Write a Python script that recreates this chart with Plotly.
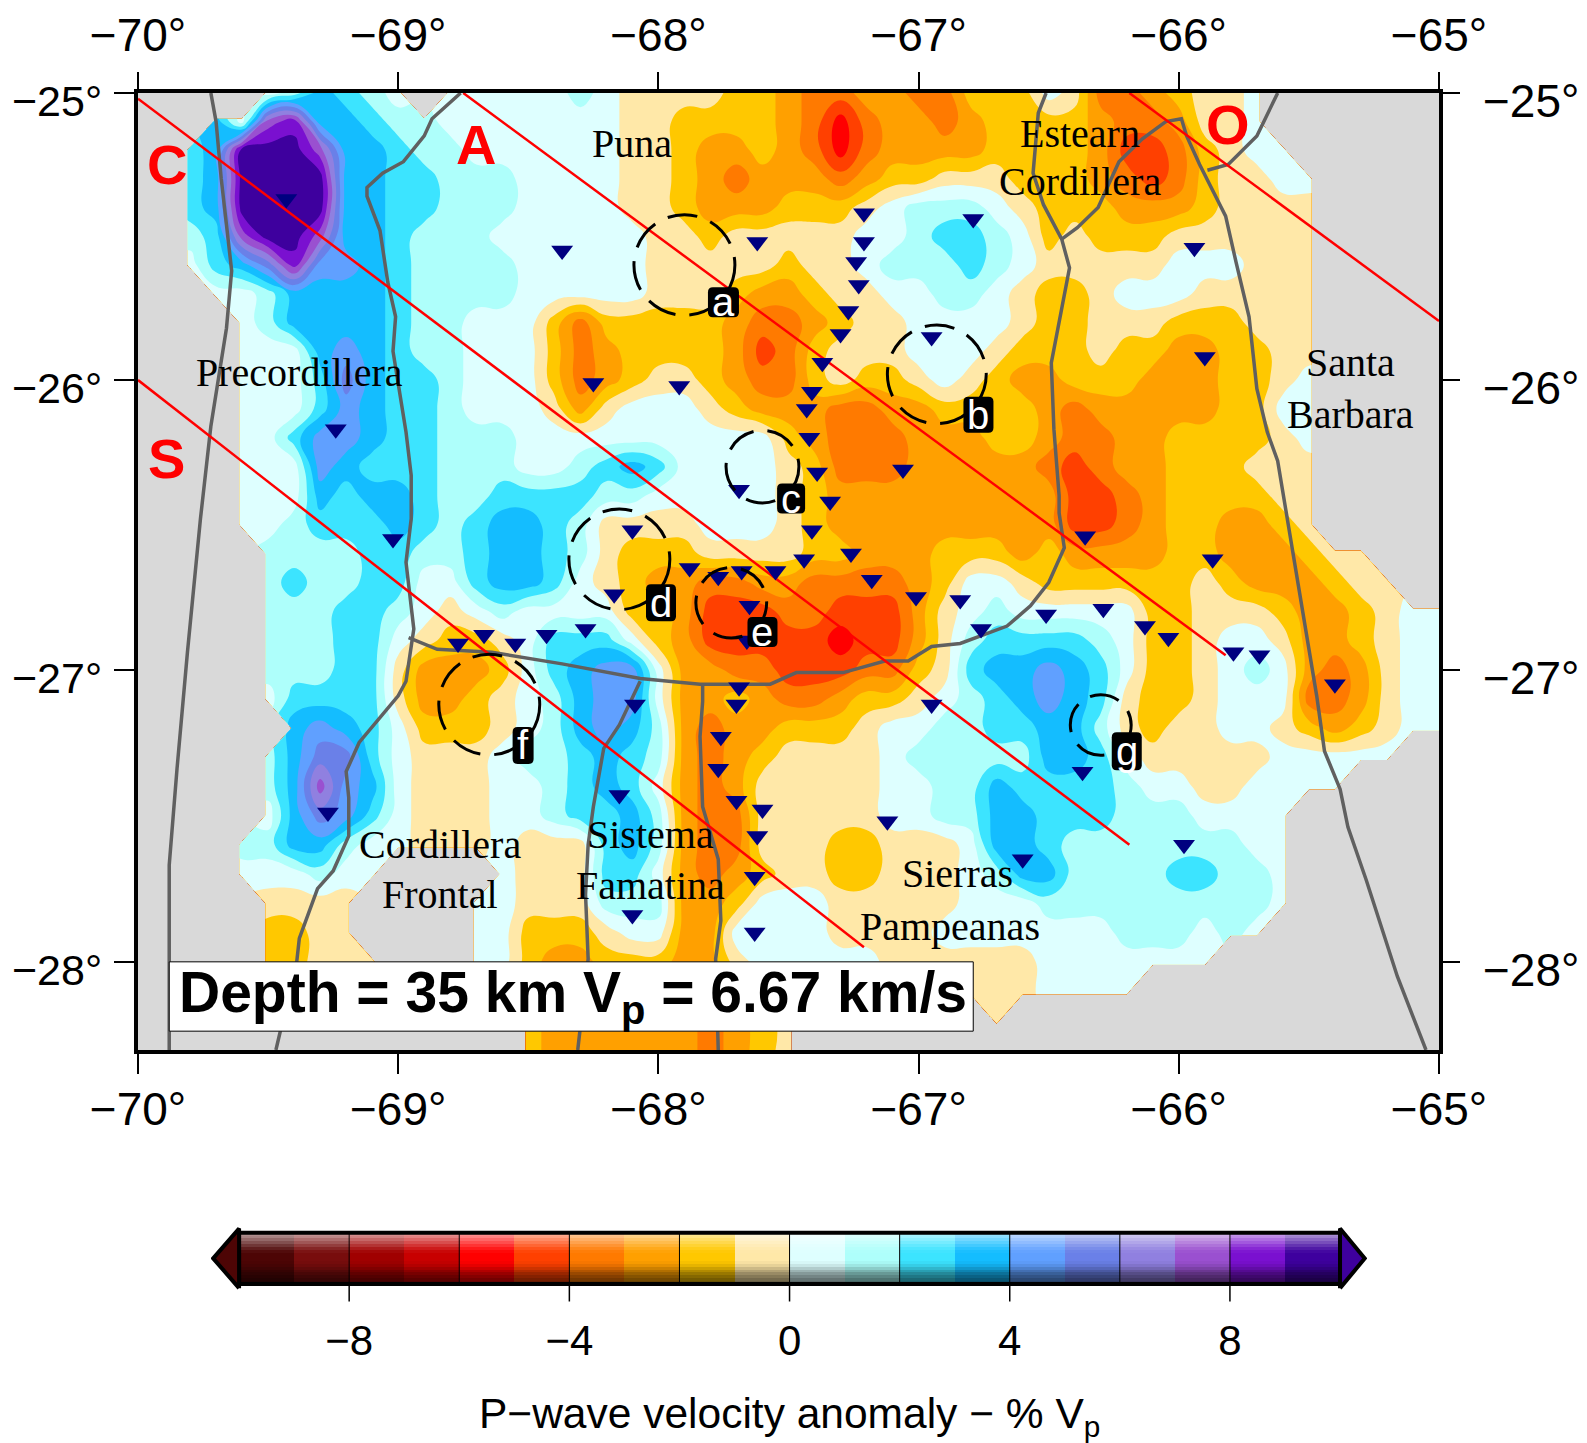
import math
import plotly.graph_objects as go

N = None
W, H = 1587, 1443
OFF = 8  # the page body keeps its default 8 px margin
FW, FH = W - OFF, H - OFF

def merc(lat):
    return math.degrees(math.log(math.tan(math.pi / 4 + math.radians(lat) / 2)))

lon_cols = [round(-70 + 0.1 * i, 1) for i in range(51)]
lat_rows = [round(-25 - 0.1 * i, 1) for i in range(34)]

# P-wave velocity anomaly (% Vp): one row per latitude
anomaly = [
 [N,N,N,N,N,.5,1.5,3.5,2.5,1.5, .5,N,.5,.5,.5,.5,.5,1.5,.5,-.5, -.5,-.5,-.5,-1.5,-1.5,-2.5,-3.5,-3.5,-2.5,-2.5, -3.5,-3.5,-1.5,-1.5,-1.5,.5,-.5,-3.5,-3.5,-2.5, -1.5,-.5,-.5,.5,N,N,N,N,N,N,N],
 [N,N,N,3.5,.5,7.5,8.5,3.5,3.5,2.5, 1.5,1.5,.5,.5,.5,.5,.5,.5,.5,-.5, -.5,-1.5,-1.5,-1.5,-1.5,-2.5,-3.5,-5.5,-3.5,-2.5, -2.5,-3.5,-2.5,-1.5,-1.5,-1.5,-1.5,-2.5,-3.5,-3.5, -2.5,-.5,-.5,.5,N,N,N,N,N,N,N],
 [N,N,2.5,3.5,9.5,9.5,9.5,7.5,3.5,3.5, 2.5,1.5,1.5,.5,.5,.5,.5,.5,.5,-.5, -.5,-1.5,-2.5,-2.5,-1.5,-2.5,-3.5,-5.5,-3.5,-2.5, -2.5,-2.5,-2.5,-1.5,-1.5,-1.5,-1.5,-2.5,-4.5,-4.5, -3.5,-1.5,-.5,.5,.5,N,N,N,N,N,N],
 [N,N,2.5,3.5,9.5,9.5,9.5,9.5,3.5,3.5, 2.5,2.5,1.5,1.5,1.5,.5,.5,.5,.5,-.5, -.5,-1.5,-2.5,-3.5,-2.5,-2.5,-2.5,-3.5,-2.5,-1.5, -1.5,-.5,-.5,-.5,-1.5,-1.5,-1.5,-2.5,-3.5,-4.5, -3.5,-1.5,-.5,-.5,.5,.5,N,N,N,N,N],
 [N,N,2.5,3.5,9.5,9.5,9.5,9.5,3.5,3.5, 2.5,2.5,1.5,1.5,1.5,.5,.5,.5,.5,-.5, -.5,-1.5,-2.5,-2.5,-2.5,-1.5,-1.5,-1.5,-.5,.5, 1.5,1.5,1.5,.5,-.5,-1.5,-1.5,-1.5,-2.5,-2.5, -2.5,-1.5,-.5,-.5,-.5,-.5,N,N,N,N,N],
 [N,N,1.5,2.5,7.5,9.5,9.5,7.5,3.5,3.5, 2.5,1.5,1.5,1.5,.5,.5,.5,.5,.5,.5, -.5,-.5,-1.5,-.5,-.5,-.5,-.5,-.5,.5,.5, 1.5,2.5,2.5,1.5,.5,-1.5,-.5,-1.5,-1.5,-1.5, -.5,-.5,-.5,-.5,-.5,-.5,N,N,N,N,N],
 [N,N,.5,2.5,3.5,5.5,8.5,4.5,4.5,3.5, 2.5,1.5,1.5,1.5,1.5,.5,.5,.5,.5,.5, -.5,-.5,-.5,-.5,-.5,-1.5,-.5,-.5,.5,1.5, 1.5,1.5,2.5,1.5,.5,-.5,-.5,-.5,-.5,-.5, .5,.5,.5,-.5,-.5,-.5,N,N,N,N,N],
 [N,N,N,.5,.5,1.5,3.5,3.5,3.5,3.5, 2.5,1.5,1.5,1.5,1.5,.5,.5,.5,.5,.5, -.5,-.5,-.5,-1.5,-2.5,-2.5,-1.5,-.5,-.5,.5, .5,1.5,1.5,.5,-.5,-1.5,-1.5,-.5,.5,.5, .5,-.5,-.5,-.5,-.5,-.5,N,N,N,N,N],
 [N,N,N,N,.5,1.5,3.5,3.5,3.5,3.5, 2.5,1.5,1.5,.5,.5,.5,-1.5,-3.5,-1.5,-1.5, -1.5,-1.5,-1.5,-2.5,-3.5,-3.5,-2.5,-1.5,-.5,-.5, .5,.5,.5,.5,-.5,-1.5,-1.5,-.5,-.5,-.5, -1.5,-1.5,-1.5,-.5,-.5,-.5,N,N,N,N,N],
 [N,N,N,N,.5,.5,.5,3.5,4.5,3.5, 2.5,1.5,1.5,.5,.5,.5,-1.5,-3.5,-2.5,-1.5, -1.5,-1.5,-1.5,-2.5,-4.5,-3.5,-1.5,-.5,-.5,-.5, .5,.5,.5,-.5,-1.5,-1.5,-1.5,-.5,-1.5,-1.5, -2.5,-2.5,-1.5,-1.5,-.5,-.5,N,N,N,N,N],
 [N,N,N,N,.5,.5,.5,2.5,5.5,3.5, 2.5,2.5,1.5,.5,.5,.5,-1.5,-3.5,-2.5,-1.5, -.5,-.5,-1.5,-2.5,-3.5,-3.5,-1.5,-.5,-1.5,-1.5, -.5,.5,-.5,-1.5,-2.5,-2.5,-1.5,-1.5,-1.5,-2.5, -2.5,-2.5,-1.5,-1.5,-.5,.5,N,N,N,N,N],
 [N,N,N,N,.5,.5,.5,2.5,4.5,3.5, 2.5,2.5,1.5,.5,.5,.5,-.5,-2.5,-.5,.5, .5,.5,-.5,-1.5,-2.5,-2.5,-2.5,-3.5,-3.5,-2.5, -2.5,-1.5,-1.5,-1.5,-1.5,-2.5,-3.5,-2.5,-2.5,-2.5, -2.5,-2.5,-1.5,-1.5,.5,.5,N,N,N,N,N],
 [N,N,N,N,.5,.5,2.5,4.5,4.5,3.5, 2.5,2.5,1.5,1.5,1.5,.5,.5,.5,.5,.5, .5,.5,.5,.5,.5,-1.5,-2.5,-3.5,-3.5,-3.5, -2.5,-2.5,-2.5,-1.5,-1.5,-2.5,-3.5,-3.5,-2.5,-2.5, -1.5,-1.5,-1.5,-1.5,-.5,.5,N,N,N,N,N],
 [N,N,N,N,.5,.5,.5,4.5,3.5,2.5, 2.5,2.5,1.5,1.5,1.5,.5,.5,1.5,2.5,3.5, 2.5,.5,.5,.5,.5,-.5,-1.5,-3.5,-3.5,-3.5, -2.5,-2.5,-2.5,-2.5,-2.5,-3.5,-4.5,-3.5,-2.5,-2.5, -1.5,-1.5,-1.5,-.5,-.5,-.5,N,N,N,N,N],
 [N,N,N,N,.5,.5,.5,3.5,2.5,3.5, 3.5,2.5,1.5,1.5,2.5,2.5,2.5,2.5,1.5,1.5, .5,.5,.5,.5,.5,-.5,-1.5,-2.5,-2.5,-2.5, -2.5,-2.5,-2.5,-2.5,-2.5,-2.5,-4.5,-4.5,-3.5,-2.5, -1.5,-1.5,-1.5,-1.5,-.5,-.5,N,N,N,N,N],
 [N,N,N,N,.5,.5,1.5,2.5,2.5,2.5, 3.5,2.5,1.5,2.5,3.5,3.5,2.5,1.5,-.5,-.5, -.5,-.5,.5,.5,.5,-.5,-1.5,-2.5,-2.5,-2.5, -2.5,-2.5,-2.5,-2.5,-2.5,-2.5,-4.5,-4.5,-3.5,-2.5, -1.5,-1.5,-2.5,-2.5,-1.5,-.5,N,N,N,N,N],
 [N,N,N,N,N,1.5,1.5,1.5,1.5,2.5, 2.5,1.5,1.5,2.5,3.5,3.5,2.5,1.5,-.5,-1.5, -1.5,-1.5,-.5,-.5,-.5,-.5,-1.5,-1.5,-2.5,-2.5, -2.5,-1.5,-1.5,-1.5,-2.5,-1.5,-2.5,-2.5,-2.5,-2.5, -1.5,-1.5,-2.5,-2.5,-2.5,-1.5,-.5,-.5,N,N,N],
 [N,N,N,N,N,1.5,2.5,1.5,1.5,2.5, 2.5,.5,.5,2.5,3.5,3.5,2.5,.5,-.5,-1.5, -2.5,-2.5,-3.5,-3.5,-2.5,-2.5,-3.5,-3.5,-3.5,-3.5, -2.5,-1.5,.5,.5,-.5,-1.5,-1.5,-1.5,-1.5,-1.5, -1.5,-.5,-1.5,-2.5,-2.5,-2.5,-1.5,-.5,-.5,N,N],
 [N,N,N,N,N,1.5,1.5,1.5,2.5,2.5, 1.5,.5,-.5,.5,1.5,.5,.5,.5,.5,-1.5, -1.5,-2.5,-4.5,-4.5,-4.5,-3.5,-3.5,-4.5,-4.5,-4.5, -2.5,-.5,.5,1.5,.5,.5,.5,.5,.5,-1.5, -1.5,-.5,-.5,-.5,-1.5,-2.5,-2.5,-1.5,-.5,.5,.5],
 [N,N,N,N,N,1.5,1.5,1.5,2.5,2.5, .5,-.5,-1.5,-1.5,-.5,.5,2.5,2.5,2.5,.5, -1.5,-2.5,-4.5,-4.5,-4.5,-4.5,-4.5,-5.5,-4.5,-4.5, -2.5,-.5,1.5,2.5,2.5,2.5,2.5,1.5,.5,-1.5, -1.5,-.5,.5,.5,-.5,-2.5,-2.5,-1.5,-.5,.5,.5],
 [N,N,N,N,N,1.5,1.5,1.5,2.5,2.5, -.5,-2.5,-2.5,-2.5,-1.5,.5,2.5,3.5,4.5,4.5, .5,-2.5,-2.5,-3.5,-3.5,-4.5,-4.5,-4.5,-3.5,-3.5, -1.5,-.5,2.5,3.5,3.5,4.5,3.5,2.5,.5,-1.5, -1.5,-.5,.5,1.5,.5,-2.5,-3.5,-2.5,-.5,.5,.5],
 [N,N,N,N,N,.5,2.5,2.5,2.5,2.5, -.5,-2.5,-2.5,-1.5,-.5,.5,1.5,3.5,4.5,4.5, .5,-2.5,-2.5,-1.5,-2.5,-3.5,-3.5,-2.5,-1.5,-1.5, -.5,.5,1.5,2.5,3.5,4.5,3.5,2.5,-.5,-1.5, -1.5,-.5,.5,.5,.5,-3.5,-3.5,-2.5,-.5,.5,.5],
 [N,N,N,N,N,N,3.5,4.5,3.5,2.5, .5,-1.5,-1.5,-1.5,-.5,.5,1.5,3.5,4.5,3.5, 1.5,-2.5,-3.5,-2.5,-2.5,-1.5,-1.5,-1.5,-.5,.5, .5,1.5,1.5,2.5,2.5,3.5,3.5,1.5,-.5,-1.5, -.5,-.5,.5,.5,-.5,-1.5,-2.5,-1.5,-.5,.5,.5],
 [N,N,N,N,N,1.5,3.5,5.5,5.5,2.5, .5,-.5,-.5,-.5,.5,1.5,1.5,2.5,3.5,2.5, 1.5,-2.5,-3.5,-2.5,-1.5,-.5,-.5,-.5,-.5,.5, 1.5,1.5,1.5,1.5,1.5,3.5,3.5,2.5,.5,-.5, -.5,-.5,-.5,-.5,.5,.5,.5,.5,.5,N,N],
 [N,N,N,N,N,1.5,3.5,7.5,4.5,3.5, .5,-.5,-.5,-.5,.5,.5,1.5,2.5,3.5,2.5, .5,-2.5,-3.5,-2.5,-.5,-.5,-.5,-.5,-.5,.5, .5,1.5,1.5,3.5,2.5,2.5,2.5,2.5,1.5,.5, .5,-.5,-.5,.5,.5,.5,.5,N,N,N,N],
 [N,N,N,N,N,.5,3.5,5.5,4.5,2.5, .5,-.5,-.5,-.5,.5,.5,1.5,2.5,2.5,3.5, 1.5,-2.5,-3.5,-3.5,-.5,-.5,-.5,-.5,-.5,.5, .5,1.5,1.5,3.5,3.5,2.5,2.5,2.5,1.5,1.5, 1.5,.5,.5,.5,.5,N,N,N,N,N,N],
 [N,N,N,N,1.5,1.5,3.5,3.5,1.5,.5, .5,-.5,-.5,-.5,.5,-.5,-.5,-.5,2.5,3.5, 1.5,-2.5,-3.5,-3.5,-.5,-.5,-.5,-1.5,-1.5,-.5, -.5,-.5,.5,3.5,3.5,2.5,1.5,1.5,1.5,1.5, 1.5,1.5,1.5,.5,.5,N,N,N,N,N,N],
 [N,N,N,N,.5,.5,.5,1.5,.5,.5, N,N,N,N,.5,-.5,-.5,-.5,2.5,2.5, .5,-2.5,-3.5,-2.5,-1.5,-.5,-.5,-1.5,-1.5,-.5, -.5,-.5,.5,1.5,3.5,3.5,1.5,1.5,1.5,1.5, 2.5,2.5,1.5,1.5,.5,N,N,N,N,N,N],
 [N,N,N,N,N,-.5,-.5,-.5,-.5,N, N,N,N,.5,.5,-.5,-.5,-.5,1.5,1.5, 1.5,-2.5,-2.5,-1.5,.5,.5,.5,-.5,-.5,-.5, -.5,-.5,.5,.5,.5,1.5,1.5,1.5,1.5,1.5, 1.5,1.5,1.5,1.5,.5,N,N,N,N,N,N],
 [N,N,N,N,N,-1.5,-1.5,-.5,-.5,N, N,N,N,.5,.5,-1.5,-1.5,-1.5,-.5,.5, .5,-2.5,-2.5,.5,.5,.5,.5,-.5,-.5,-.5, -.5,.5,.5,.5,.5,.5,.5,.5,1.5,1.5, 1.5,.5,1.5,.5,N,N,N,N,N,N,N],
 [N,N,N,N,N,-1.5,-1.5,-.5,-.5,-.5, N,N,N,.5,.5,-1.5,-2.5,-2.5,-1.5,-1.5, -1.5,-2.5,-2.5,-.5,.5,.5,.5,.5,.5,-.5, -.5,-.5,-.5,-.5,-.5,.5,.5,.5,.5,.5, .5,.5,N,N,N,N,N,N,N,N,N],
 [N,N,N,N,N,N,N,N,N,N, N,N,N,N,N,-1.5,-2.5,-2.5,-2.5,-2.5, -2.5,-2.5,-3.5,-2.5,-.5,.5,.5,.5,.5,-.5, -.5,-.5,-.5,-.5,-.5,.5,.5,.5,.5,N, N,N,N,N,N,N,N,N,N,N,N],
 [N,N,N,N,N,N,N,N,N,N, N,N,N,N,N,-1.5,-2.5,-2.5,-2.5,-2.5, -2.5,-2.5,-3.5,-2.5,-1.5,-.5,N,N,N,N, N,N,N,-.5,N,N,N,N,N,N, N,N,N,N,N,N,N,N,N,N,N],
 [N,N,N,N,N,N,N,N,N,N, N,N,N,N,N,-1.5,-2.5,-2.5,-2.5,-2.5, -2.5,-2.5,-3.5,-2.5,-1.5,-.5,N,N,N,N, N,N,N,N,N,N,N,N,N,N, N,N,N,N,N,N,N,N,N,N,N],
]
assert all(len(r) == 51 for r in anomaly) and len(anomaly) == 34

class_colors = ["#4d0505", "#780d0d", "#a00000", "#c80000", "#ff0000", "#ff4000", "#ff7a00",
                "#ffa000", "#ffc800", "#ffe8a8", "#deffff", "#aefffb", "#3ce4ff", "#14bdff",
                "#60a0ff", "#6a80e8", "#9080e0", "#9a50d0", "#7a10d0", "#3e009e"]
colorscale = []
for k, c in enumerate(class_colors):
    colorscale.append([k / 20, c])
    colorscale.append([(k + 1) / 20, c])

station_lon = [-69.43,-68.37,-67.62,-67.21,-67.21,-67.24,-67.23,-67.27,-67.30,-67.37,-67.41,-67.43,-67.42,-67.39,-67.34,-67.41,-67.44,-67.26,-67.18,-67.06,-67.01,-66.84,-66.76,-66.95,-66.79,-68.25,-67.92,-67.69,-68.10,-67.88,-68.17,-67.77,-67.68,-67.55,-67.65,-67.66,-67.69,-67.70,-67.76,-67.77,-67.70,-67.60,-67.62,-67.63,-67.63,-67.12,-66.60,-65.98,-66.37,-66.95,-68.09,-68.15,-68.10,-69.27,-69.24,-69.02,-68.77,-68.67,-68.55,-68.43,-68.28,-66.51,-66.29,-66.13,-66.04,-66.36,-65.87,-65.94,-65.90,-65.79,-65.69,-65.40]
station_lat = [-25.37,-25.55,-25.52,-25.42,-25.52,-25.59,-25.67,-25.76,-25.84,-25.94,-26.04,-26.10,-26.20,-26.32,-26.42,-26.52,-26.62,-26.60,-26.69,-26.31,-26.75,-26.76,-26.86,-25.85,-25.44,-26.01,-26.02,-26.38,-26.52,-26.65,-26.74,-26.68,-26.66,-26.66,-26.78,-26.90,-27.06,-27.12,-27.23,-27.34,-27.45,-27.48,-27.57,-27.71,-27.90,-27.52,-27.65,-27.60,-27.35,-27.12,-27.12,-27.43,-27.84,-27.49,-26.17,-26.55,-26.91,-26.88,-26.91,-26.88,-26.86,-26.81,-26.79,-26.85,-26.89,-26.54,-26.62,-25.54,-25.92,-26.94,-26.95,-27.05]

boundaries = [
 [(-69.72,-25.0),(-69.70,-25.10),(-69.68,-25.30),(-69.64,-25.62),(-69.66,-25.82),(-69.72,-26.16),(-69.76,-26.48),(-69.81,-26.94),(-69.85,-27.34),(-69.88,-27.67),(-69.88,-27.92),(-69.88,-28.30)],
 [(-68.76,-25.0),(-68.87,-25.09),(-68.90,-25.15),(-68.98,-25.24),(-69.06,-25.28),(-69.12,-25.33),(-69.12,-25.36),(-69.07,-25.48),(-69.04,-25.66),(-69.01,-25.78),(-69.02,-25.90),(-68.97,-26.18),(-68.95,-26.33),(-68.95,-26.48),(-68.97,-26.63),(-68.94,-26.86),(-68.97,-27.04),(-69.00,-27.09),(-69.15,-27.25),(-69.20,-27.35),(-69.19,-27.44),(-69.19,-27.57),(-69.25,-27.69),(-69.31,-27.75),(-69.38,-27.92),(-69.39,-28.0),(-69.47,-28.30)],
 [(-68.96,-26.89),(-68.85,-26.93),(-68.64,-26.94),(-68.37,-26.98),(-68.07,-27.03),(-67.84,-27.05),(-67.57,-27.05),(-67.47,-27.01),(-67.29,-27.01),(-67.13,-26.97),(-67.04,-26.97),(-66.95,-26.92),(-66.84,-26.91),(-66.66,-26.85),(-66.57,-26.78),(-66.50,-26.70),(-66.44,-26.58),(-66.46,-26.46),(-66.46,-26.40),(-66.48,-26.17),(-66.49,-25.94),(-66.42,-25.61),(-66.45,-25.51),(-66.52,-25.39),(-66.56,-25.28),(-66.55,-25.17),(-66.54,-25.07),(-66.51,-25.0)],
 [(-66.45,-25.51),(-66.39,-25.47),(-66.31,-25.40),(-66.23,-25.24),(-66.14,-25.16),(-66.05,-25.10),(-65.99,-25.09),(-65.97,-25.15),(-65.92,-25.25),(-65.82,-25.43),(-65.78,-25.59),(-65.73,-25.78),(-65.70,-26.03),(-65.66,-26.18),(-65.62,-26.28),(-65.56,-26.60),(-65.51,-26.87),(-65.47,-27.09),(-65.44,-27.28),(-65.38,-27.41),(-65.35,-27.54),(-65.28,-27.72),(-65.16,-28.05),(-65.05,-28.30)],
 [(-65.89,-25.27),(-65.81,-25.25),(-65.70,-25.15),(-65.62,-25.0)],
 [(-68.07,-27.04),(-68.15,-27.19),(-68.21,-27.27),(-68.25,-27.47),(-68.27,-27.60),(-68.28,-27.77),(-68.27,-27.99),(-68.31,-28.30)],
 [(-67.83,-27.05),(-67.83,-27.11),(-67.84,-27.23),(-67.83,-27.47),(-67.77,-27.65),(-67.76,-27.86),(-67.78,-27.99),(-67.77,-28.30)],
]
profiles = [
 [(-70.0,-25.02),(-66.19,-27.60)],
 [(-68.75,-25.0),(-65.82,-26.95)],
 [(-70.0,-26.0),(-67.21,-27.95)],
 [(-66.19,-25.0),(-65.0,-25.795)],
]
profile_names = ["C", "A", "S", "O"]
profile_name_lon = [-69.89, -68.70, -69.89, -65.81]
profile_name_lat = [-25.25, -25.18, -26.27, -25.11]

circle_names = ["a", "b", "c", "d", "e", "f", "g"]
circle_lon = [-67.90, -66.93, -67.60, -68.15, -67.72, -68.65, -66.30]
circle_lat = [-25.60, -25.98, -26.30, -26.62, -26.77, -27.12, -27.19]
circle_r = [0.194, 0.190, 0.140, 0.194, 0.136, 0.194, 0.117]
tag_lon = [-67.75, -66.77, -67.49, -67.99, -67.60, -68.52, -66.20]
tag_lat = [-25.73, -26.12, -26.41, -26.77, -26.87, -27.26, -27.28]
tag_w = [31, 30, 28, 30, 30, 21, 30]
tag_h = [30, 36, 30, 37, 30, 37, 38]

region_names = ["Puna", "Estearn", "Cordillera", "Santa", "Barbara", "Precordillera", "Cordillera", "Frontal", "Sistema", "Famatina", "Sierras", "Pampeanas"]
region_lon = [-68.10, -66.38, -66.38, -65.34, -65.34, -69.38, -68.84, -68.84, -68.03, -68.03, -66.85, -66.88]
region_lat = [-25.176, -25.14, -25.31, -25.94, -26.12, -25.975, -27.60, -27.77, -27.565, -27.74, -27.70, -27.88]

lon_ticks = [-70, -69, -68, -67, -66, -65]
lat_ticks = [-25, -26, -27, -28]
bar_edges = list(range(-10, 11))
bar_major = [-8, -4, 0, 4, 8]
bar_separators = [-8, -6, -4, -2, 0, 2, 4, 6, 8]
bar_shade = [-.6, -.55, -.48, -.4, -.3, -.2, -.1, -.03, 0, 0, 0, .03, .1, .2, .3, .4, .5, .55]

INK = "#000000"
SANS = "Liberation Sans"
SERIF = "Liberation Serif"

def xdom(a, b):
    return [(a - OFF) / FW, (b - OFF) / FW]

def ydom(top, bottom):
    return [1 - (bottom - OFF) / FH, 1 - (top - OFF) / FH]

fig = go.Figure()
ymap = [merc(v) for v in lat_rows]
fig.add_trace(go.Contour(x=lon_cols, y=ymap, z=anomaly, zmin=-10, zmax=10,
                         autocontour=False, contours=dict(start=-10, end=10, size=1, coloring="fill", showlines=False),
                         line=dict(width=0, smoothing=1.3),
                         colorscale=colorscale, showscale=False, hoverinfo="skip"))
for b in boundaries:
    fig.add_trace(go.Scatter(x=[p[0] for p in b], y=[merc(p[1]) for p in b], mode="lines",
                             line=dict(color="#606060", width=3.5), hoverinfo="skip"))
for p in profiles:
    fig.add_trace(go.Scatter(x=[q[0] for q in p], y=[merc(q[1]) for q in p], mode="lines",
                             line=dict(color="#ff0000", width=2.5), hoverinfo="skip"))
fig.add_trace(go.Scatter(x=station_lon, y=[merc(v) for v in station_lat], mode="markers",
                         marker=dict(symbol="triangle-down", size=19, color="#000080", line=dict(width=0))))
# secondary axes carry the top tick labels and the right ticks
fig.add_trace(go.Scatter(x=[-70], y=[merc(-25)], xaxis="x2", yaxis="y2", mode="markers",
                         marker=dict(size=1, opacity=0), hoverinfo="skip"))

# colour bar
fig.add_trace(go.Heatmap(x=bar_edges, y=[0, 1], z=[[k + .5 for k in bar_edges[:-1]]], zmin=-10, zmax=10,
                         colorscale=colorscale, showscale=False, xaxis="x3", yaxis="y3", hoverinfo="skip"))
fig.add_trace(go.Heatmap(x=[-10, 10], y=[i / len(bar_shade) for i in range(len(bar_shade) + 1)],
                         z=[[s] for s in bar_shade], zmin=-1, zmax=1, showscale=False, xaxis="x3", yaxis="y3",
                         hoverinfo="skip",
                         colorscale=[[0, "rgba(0,0,0,1)"], [.5, "rgba(0,0,0,0)"],
                                     [.5, "rgba(255,255,255,0)"], [1, "rgba(255,255,255,1)"]]))
for v in bar_separators:
    fig.add_trace(go.Scatter(x=[v, v], y=[0, 1], mode="lines", line=dict(color=INK, width=1),
                             xaxis="x3", yaxis="y3", hoverinfo="skip"))
for v in bar_major:
    fig.add_trace(go.Scatter(x=[v, v], y=[0, -.34], mode="lines", line=dict(color=INK, width=1.5),
                             xaxis="x3", yaxis="y3", hoverinfo="skip"))
fig.add_trace(go.Scatter(x=[-10, 10, 10, -10, -10], y=[0, 0, 1, 1, 0], mode="lines", line=dict(color=INK, width=4),
                         xaxis="x3", yaxis="y3", hoverinfo="skip"))
fig.add_trace(go.Scatter(x=[-10, -10.47, -10, -10], y=[-.08, .5, 1.08, -.08], mode="lines", fill="toself",
                         fillcolor=class_colors[0], line=dict(color=INK, width=4), xaxis="x3", yaxis="y3", hoverinfo="skip"))
fig.add_trace(go.Scatter(x=[10, 10.45, 10, 10], y=[-.08, .5, 1.08, -.08], mode="lines", fill="toself",
                         fillcolor=class_colors[-1], line=dict(color=INK, width=4), xaxis="x3", yaxis="y3", hoverinfo="skip"))

shapes = [dict(type="rect", xref="x", yref="y", x0=-70, x1=-65, y0=merc(-28.3), y1=merc(-25),
               fillcolor="#d9d9d9", line=dict(width=0), layer="below")]
for lo, la, r in zip(circle_lon, circle_lat, circle_r):
    m = merc(la)
    shapes.append(dict(type="circle", xref="x", yref="y", x0=lo - r, x1=lo + r, y0=m - r, y1=m + r,
                       line=dict(color=INK, width=3, dash="30px,14px")))
for lo, la, w, h in zip(tag_lon, tag_lat, tag_w, tag_h):
    a, b, c = w / 2, h / 2, 5
    path = (f"M {-a + c} {-b} L {a - c} {-b} Q {a} {-b} {a} {-b + c} L {a} {b - c} Q {a} {b} {a - c} {b} "
            f"L {-a + c} {b} Q {-a} {b} {-a} {b - c} L {-a} {-b + c} Q {-a} {-b} {-a + c} {-b} Z")
    shapes.append(dict(type="path", xref="x", yref="y", xsizemode="pixel", ysizemode="pixel",
                       xanchor=lo, yanchor=merc(la), path=path, fillcolor=INK, line=dict(width=0)))
shapes.append(dict(type="rect", xref="x", yref="y", x0=-69.88, x1=-66.79, y0=merc(-28.236), y1=merc(-28.0),
                   fillcolor="#ffffff", line=dict(color=INK, width=1)))

ann = []
for t, lo, la in zip(region_names, region_lon, region_lat):
    ann.append(dict(text=t, x=lo, y=merc(la), xref="x", yref="y", showarrow=False,
                    font=dict(family=SERIF, size=40, color=INK)))
for t, lo, la in zip(profile_names, profile_name_lon, profile_name_lat):
    ann.append(dict(text=f"<b>{t}</b>", x=lo, y=merc(la), xref="x", yref="y", showarrow=False,
                    font=dict(family=SANS, size=56, color="#ff0000")))
for t, lo, la in zip(circle_names, tag_lon, tag_lat):
    ann.append(dict(text=t, x=lo, y=merc(la), xref="x", yref="y", showarrow=False,
                    font=dict(family=SANS, size=40, color="#ffffff")))
ann.append(dict(text="<b>Depth = 35 km V<sub>p</sub> = 6.67 km/s</b>", x=-69.85, y=merc(-28.115), xref="x", yref="y",
                xanchor="left", showarrow=False, font=dict(family=SANS, size=57, color=INK)))
ann.append(dict(text="P\u2212wave velocity anomaly \u2212 % V<sub>p</sub>", x=(789 - OFF) / FW, y=1 - (1416 - OFF) / FH,
                xref="paper", yref="paper", xanchor="center", yanchor="middle", showarrow=False,
                font=dict(family=SANS, size=42.5, color=INK)))
# latitude labels sit a little below their ticks, so they are annotations
lat_text = [f"\u2212{-v}\u00b0" for v in lat_ticks]
for v, t in zip(lat_ticks, lat_text):
    ann.append(dict(text=t, x=-70, y=merc(v), xref="x", yref="y", xanchor="right", yanchor="middle", xshift=-34, yshift=-8,
                    showarrow=False, font=dict(family=SANS, size=43, color=INK)))
    ann.append(dict(text=t, x=-65, y=merc(v), xref="x", yref="y", xanchor="left", yanchor="middle", xshift=42, yshift=-8,
                    showarrow=False, font=dict(family=SANS, size=46, color=INK)))

lon_text = [f"\u2212{-v}\u00b0" for v in lon_ticks]
lat_vals = [merc(v) for v in lat_ticks]
yr = [merc(-28.3), merc(-25)]
tick = dict(ticks="outside", ticklen=20, tickwidth=1.5, tickcolor=INK, showgrid=False, zeroline=False, automargin=False,
            tickfont=dict(family=SANS, size=46, color=INK))

fig.update_layout(
    width=FW, height=FH, margin=dict(l=0, r=0, t=0, b=0), paper_bgcolor="#ffffff", plot_bgcolor="rgba(0,0,0,0)",
    showlegend=False, shapes=shapes, annotations=ann,
    xaxis=dict(domain=xdom(138, 1439), range=[-70, -65], tickvals=lon_ticks, ticktext=lon_text, side="bottom",
               showline=True, linecolor=INK, linewidth=4, mirror=True, ticklabelstandoff=-4, **tick),
    yaxis=dict(domain=ydom(93, 1050), range=yr, tickvals=lat_vals, showticklabels=False, side="left",
               showline=True, linecolor=INK, linewidth=4, mirror=True, **tick),
    xaxis2=dict(domain=xdom(138, 1439), range=[-70, -65], tickvals=lon_ticks, ticktext=lon_text, side="top",
                anchor="y2", overlaying="x", ticklabelstandoff=3, **tick),
    yaxis2=dict(domain=ydom(93, 1050), range=yr, tickvals=lat_vals, showticklabels=False, side="right",
                anchor="x2", overlaying="y", **tick),
    xaxis3=dict(domain=xdom(211, 1367), range=[-10.51, 10.49], tickvals=bar_major, automargin=False,
                ticktext=[str(v).replace("-", "\u2212") for v in bar_major], ticks="", showgrid=False, zeroline=False,
                showline=False, anchor="y3", side="bottom", ticklabelstandoff=10, tickfont=dict(family=SANS, size=42, color=INK)),
    yaxis3=dict(domain=ydom(1225, 1302), range=[-.35, 1.15], showticklabels=False, ticks="", showgrid=False, automargin=False,
                zeroline=False, showline=False, anchor="x3"),
)
fig.write_html("out.html")
